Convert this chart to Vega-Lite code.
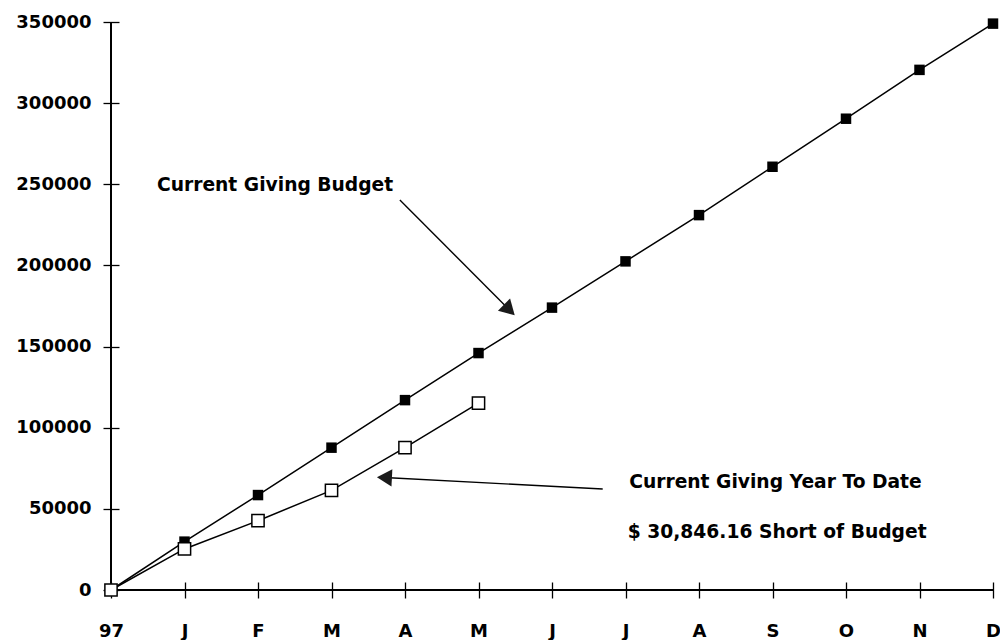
{
  "$schema": "https://vega.github.io/schema/vega-lite/v6.json",
  "width": 882,
  "height": 568,
  "autosize": {"type": "none"},
  "padding": {"left": 111, "top": 22, "right": 7, "bottom": 50},
  "background": "white",
  "config": {
    "view": {"stroke": null},
    "axis": {
      "grid": false,
      "domain": false,
      "labelFont": "DejaVu Sans",
      "labelFontWeight": "bold",
      "labelFontSize": 18,
      "labelColor": "black",
      "tickColor": "black",
      "tickWidth": 1.3,
      "labelFlush": false,
      "labelOverlap": false
    }
  },
  "datasets": {
    "giving": [
      {"i": 0, "month": "97", "budget": 0, "ytd": 0},
      {"i": 1, "month": "J", "budget": 29800, "ytd": 25300},
      {"i": 2, "month": "F", "budget": 58500, "ytd": 42700},
      {"i": 3, "month": "M", "budget": 87700, "ytd": 61400},
      {"i": 4, "month": "A", "budget": 117000, "ytd": 87700},
      {"i": 5, "month": "M", "budget": 146000, "ytd": 115200},
      {"i": 6, "month": "J", "budget": 174000, "ytd": null},
      {"i": 7, "month": "J", "budget": 202500, "ytd": null},
      {"i": 8, "month": "A", "budget": 231000, "ytd": null},
      {"i": 9, "month": "S", "budget": 260800, "ytd": null},
      {"i": 10, "month": "O", "budget": 290400, "ytd": null},
      {"i": 11, "month": "N", "budget": 320500, "ytd": null},
      {"i": 12, "month": "D", "budget": 349000, "ytd": null}
    ],
    "notes": [
      {"x": 0.625, "y": 249600, "label": "Current Giving Budget"},
      {"x": 7.05, "y": 66500, "label": "Current Giving Year To Date"},
      {"x": 7.03, "y": 35700, "label": "$ 30,846.16 Short of Budget"}
    ],
    "arrows": [
      {"x": 3.93, "y": 240300, "x2": 5.437, "y2": 171900},
      {"x": 6.69, "y": 62200, "x2": 3.72, "y2": 69300}
    ],
    "heads": [
      {"x": 5.42, "y": 172600, "angle": 134.5},
      {"x": 3.72, "y": 69300, "angle": 273}
    ]
  },
  "layer": [
    {
      "data": {"name": "giving"},
      "mark": {"type": "line", "color": "black", "strokeWidth": 1.5},
      "encoding": {
        "x": {
          "field": "i",
          "type": "quantitative",
          "scale": {"domain": [0, 12], "nice": false},
          "axis": {
            "title": null,
            "values": [0, 1, 2, 3, 4, 5, 6, 7, 8, 9, 10, 11, 12],
            "labelExpr": "['97','J','F','M','A','M','J','J','A','S','O','N','D'][datum.value]",
            "offset": -8,
            "tickSize": 16,
            "labelPadding": 24
          }
        },
        "y": {
          "field": "budget",
          "type": "quantitative",
          "scale": {"domain": [0, 350000], "nice": false},
          "axis": {
            "title": null,
            "values": [0, 50000, 100000, 150000, 200000, 250000, 300000, 350000],
            "format": "d",
            "offset": -8,
            "tickSize": 16,
            "labelPadding": 12
          }
        }
      }
    },
    {
      "data": {"name": "giving"},
      "mark": {"type": "rule", "color": "black", "strokeWidth": 1.6},
      "encoding": {
        "x": {"datum": 0, "type": "quantitative"},
        "x2": {"datum": 12},
        "y": {"datum": 0, "type": "quantitative"}
      }
    },
    {
      "data": {"name": "giving"},
      "mark": {"type": "rule", "color": "black", "strokeWidth": 1.6},
      "encoding": {
        "x": {"datum": 0, "type": "quantitative"},
        "y": {"datum": 0, "type": "quantitative"},
        "y2": {"datum": 350000}
      }
    },
    {
      "data": {"name": "giving"},
      "mark": {"type": "point", "shape": "square", "filled": true, "color": "black", "size": 110, "opacity": 1},
      "encoding": {
        "x": {"field": "i", "type": "quantitative"},
        "y": {"field": "budget", "type": "quantitative"}
      }
    },
    {
      "data": {"name": "giving"},
      "transform": [{"filter": "datum.ytd != null"}],
      "mark": {"type": "line", "color": "black", "strokeWidth": 1.5},
      "encoding": {
        "x": {"field": "i", "type": "quantitative"},
        "y": {"field": "ytd", "type": "quantitative"}
      }
    },
    {
      "data": {"name": "giving"},
      "transform": [{"filter": "datum.ytd != null"}],
      "mark": {"type": "point", "shape": "square", "filled": true, "fill": "white", "stroke": "black", "strokeWidth": 1.5, "size": 150, "opacity": 1},
      "encoding": {
        "x": {"field": "i", "type": "quantitative"},
        "y": {"field": "ytd", "type": "quantitative"}
      }
    },
    {
      "data": {"name": "arrows"},
      "mark": {"type": "rule", "color": "black", "strokeWidth": 1.4},
      "encoding": {
        "x": {"field": "x", "type": "quantitative"},
        "y": {"field": "y", "type": "quantitative"},
        "x2": {"field": "x2"},
        "y2": {"field": "y2"}
      }
    },
    {
      "data": {"name": "heads"},
      "mark": {"type": "point", "shape": "triangle-up", "filled": true, "color": "#1a1a1a", "size": 300, "opacity": 1},
      "encoding": {
        "x": {"field": "x", "type": "quantitative"},
        "y": {"field": "y", "type": "quantitative"},
        "angle": {"field": "angle", "type": "quantitative", "scale": null}
      }
    },
    {
      "data": {"name": "notes"},
      "mark": {"type": "text", "font": "DejaVu Sans", "fontWeight": "bold", "fontSize": 18.7, "align": "left", "baseline": "middle", "color": "black"},
      "encoding": {
        "x": {"field": "x", "type": "quantitative"},
        "y": {"field": "y", "type": "quantitative"},
        "text": {"field": "label"}
      }
    }
  ]
}
